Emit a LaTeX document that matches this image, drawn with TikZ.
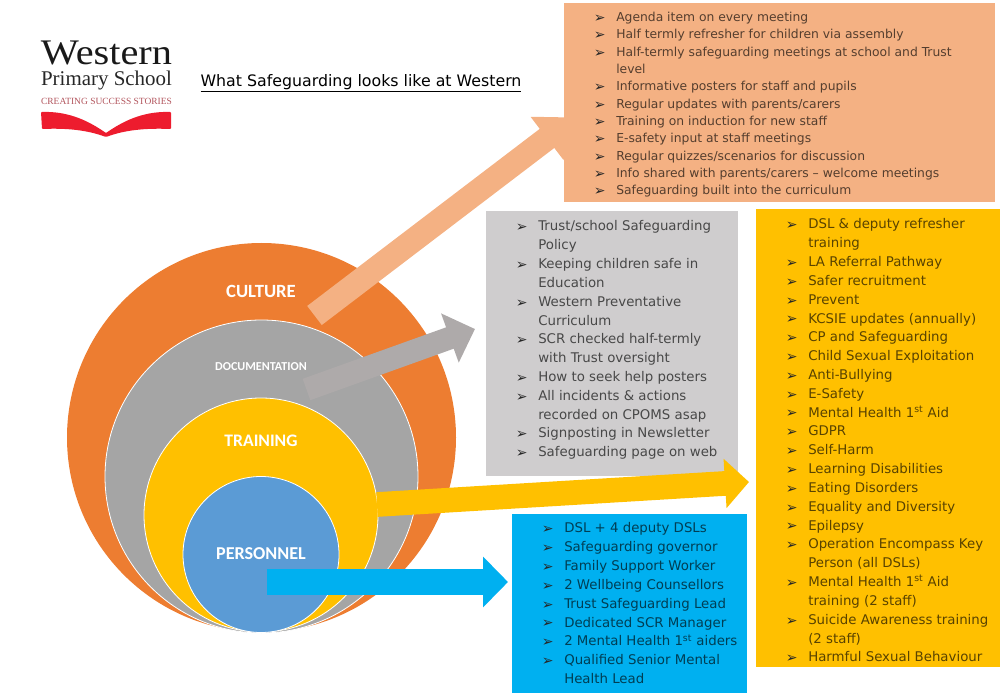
\documentclass[tikz,border=0pt]{standalone}
\usepackage{fontspec}
\setmainfont{DejaVu Sans}
\newfontfamily\labelfont{Carlito}
\newfontfamily\logofont{Liberation Serif}
\newfontfamily\logowide[FakeStretch=1.12]{Liberation Serif}
\usetikzlibrary{arrows.meta, positioning}
\newcommand{\bul}{\makebox[0pt][r]{\raisebox{-0.6pt}{\fontsize{10.5}{10}\selectfont\color{black!85}➢}\hspace{8pt}}}

\begin{document}
\begin{tikzpicture}[
    x=0.75pt, y=-0.75pt,
    ring/.style={circle, draw=white, line width=0.6pt, inner sep=0pt},
    ringlabel/.style={text=white, font=\labelfont\bfseries\fontsize{#1}{#1}\selectfont, inner sep=0pt},
    panel/.style={anchor=north west, inner sep=0pt, fill=#1},
    listtext/.style={anchor=north west, inner sep=0pt, align=left, text=#1!35!black, font=\fontsize{10}{14.12}\selectfont},
    fatarrow/.style n args={4}{draw=#1, line width=#2, -{Triangle[length=#3, width=#4, fill=#1]}},
]

\definecolor{corange}{HTML}{ED7D31}
\definecolor{cgrey}{HTML}{A5A5A5}
\definecolor{cyellow}{HTML}{FFC000}
\definecolor{cblue}{HTML}{5B9BD5}
\definecolor{cpeach}{HTML}{F4B183}
\definecolor{cpanel}{HTML}{CFCDCE}
\definecolor{carrow}{HTML}{AEAAAA}
\definecolor{ccyan}{HTML}{00B0F0}
\definecolor{cred}{HTML}{ED1C2E}

\useasboundingbox (0,0) rectangle (1003,698);

% logo
\node[anchor=base, inner sep=0pt, font=\logowide\fontsize{27}{27}\selectfont, text=black!90] (logoname) at (106.5,65) {Western};
\node[anchor=base, inner sep=0pt, font=\logofont\fontsize{15.7}{16}\selectfont, text=black!85] (logoschool) at (106.5,86) {Primary School};
\node[inner sep=0pt, font=\logofont\fontsize{7.1}{7}\selectfont, text=cred!45!gray] (logotag) at (106.5,101) {CREATING SUCCESS STORIES};
\fill[cred, rounded corners=0.6pt] (41,112) .. controls (70,111) and (90,122) .. (106,133) .. controls (122,122) and (142,111) .. (171,112) -- (171,129) .. controls (145,128) and (125,130) .. (106,137) .. controls (87,130) and (67,128) .. (42,129) -- cycle;

\node[inner sep=0pt, font=\fontsize{11.85}{14}\selectfont] (title) at (361,83) {\underline{What Safeguarding looks like at Western}};

% circles
\node[ring, draw=none, fill=corange, minimum size=291.75pt] (culture) at (261.5,437.5) {};
\node[ring, fill=cgrey, minimum size=234.75pt] (documentation) at (261.5,476.5) {};
\node[ring, fill=cyellow, minimum size=175.5pt] (training) at (261,515) {};
\node[ring, fill=cblue, minimum size=117pt] (personnel) at (261,554.5) {};
\node[ringlabel=14] (culturelabel) at (261,291) {CULTURE};
\node[ringlabel=9.1] (documentationlabel) at (261,367) {DOCUMENTATION};
\node[ringlabel=13.2] (traininglabel) at (261,441) {TRAINING};
\node[ringlabel=13.6] (personnellabel) at (261,554) {PERSONNEL};

% panels
\node[panel=cpeach, minimum width=323.25pt, minimum height=149.25pt] (culturebox) at (564,3) {};
\node[panel=cpanel, minimum width=189pt, minimum height=198.75pt] (docbox) at (486,211) {};
\node[panel=cyellow, minimum width=183pt, minimum height=343.5pt] (trainbox) at (756,209) {};
\node[panel=ccyan, minimum width=176.25pt, minimum height=134.25pt] (staffbox) at (512,514) {};

% arrow ends
\coordinate (peachtail) at (314.5,315.5);
\coordinate (peachtip) at (574.6,117.4);
\coordinate (greytail) at (306.5,389.5);
\coordinate (greytip) at (475,329);
\coordinate (yellowtail) at (377,504.5);
\coordinate (yellowtip) at (749,482);
\coordinate (bluetail) at (266.7,582);
\coordinate (bluetip) at (508,582);

\draw[fatarrow={cpeach}{18pt}{26pt}{39pt}] (peachtail) -- (peachtip);
\draw[fatarrow={carrow}{17pt}{20pt}{38pt}] (greytail) -- (greytip);
\draw[fatarrow={cyellow}{18.5pt}{18pt}{36pt}] (yellowtail) -- (yellowtip);
\draw[fatarrow={ccyan}{19.5pt}{18.75pt}{37pt}] (bluetail) -- (bluetip);

% lists
\node[listtext=cpeach, font=\fontsize{9.25}{13}\selectfont] (culturelist) at (616,12) {%
\bul Agenda item on every meeting\\
\bul Half termly refresher for children via assembly\\
\bul Half-termly safeguarding meetings at school and Trust\\
level\\
\bul Informative posters for staff and pupils\\
\bul Regular updates with parents/carers\\
\bul Training on induction for new staff\\
\bul E-safety input at staff meetings\\
\bul Regular quizzes/scenarios for discussion\\
\bul Info shared with parents/carers -- welcome meetings\\
\bul Safeguarding built into the curriculum};

\node[listtext=cpanel] (doclist) at (538,220.5) {%
\bul Trust/school Safeguarding\\
Policy\\
\bul Keeping children safe in\\
Education\\
\bul Western Preventative\\
Curriculum\\
\bul SCR checked half-termly\\
with Trust oversight\\
\bul How to seek help posters\\
\bul All incidents \& actions\\
recorded on CPOMS asap\\
\bul Signposting in Newsletter\\
\bul Safeguarding page on web};

\node[listtext=cyellow] (trainlist) at (808,218.5) {%
\bul DSL \& deputy refresher\\
training\\
\bul LA Referral Pathway\\
\bul Safer recruitment\\
\bul Prevent\\
\bul KCSIE updates (annually)\\
\bul CP and Safeguarding\\
\bul Child Sexual Exploitation\\
\bul Anti-Bullying\\
\bul E-Safety\\
\bul Mental Health 1\textsuperscript{st} Aid\\
\bul GDPR\\
\bul Self-Harm\\
\bul Learning Disabilities\\
\bul Eating Disorders\\
\bul Equality and Diversity\\
\bul Epilepsy\\
\bul Operation Encompass Key\\
Person (all DSLs)\\
\bul Mental Health 1\textsuperscript{st} Aid\\
training (2 staff)\\
\bul Suicide Awareness training\\
(2 staff)\\
\bul Harmful Sexual Behaviour};

\node[listtext=ccyan] (stafflist) at (564,522.5) {%
\bul DSL + 4 deputy DSLs\\
\bul Safeguarding governor\\
\bul Family Support Worker\\
\bul 2 Wellbeing Counsellors\\
\bul Trust Safeguarding Lead\\
\bul Dedicated SCR Manager\\
\bul 2 Mental Health 1\textsuperscript{st} aiders\\
\bul Qualified Senior Mental\\
Health Lead};

\end{tikzpicture}
\end{document}
